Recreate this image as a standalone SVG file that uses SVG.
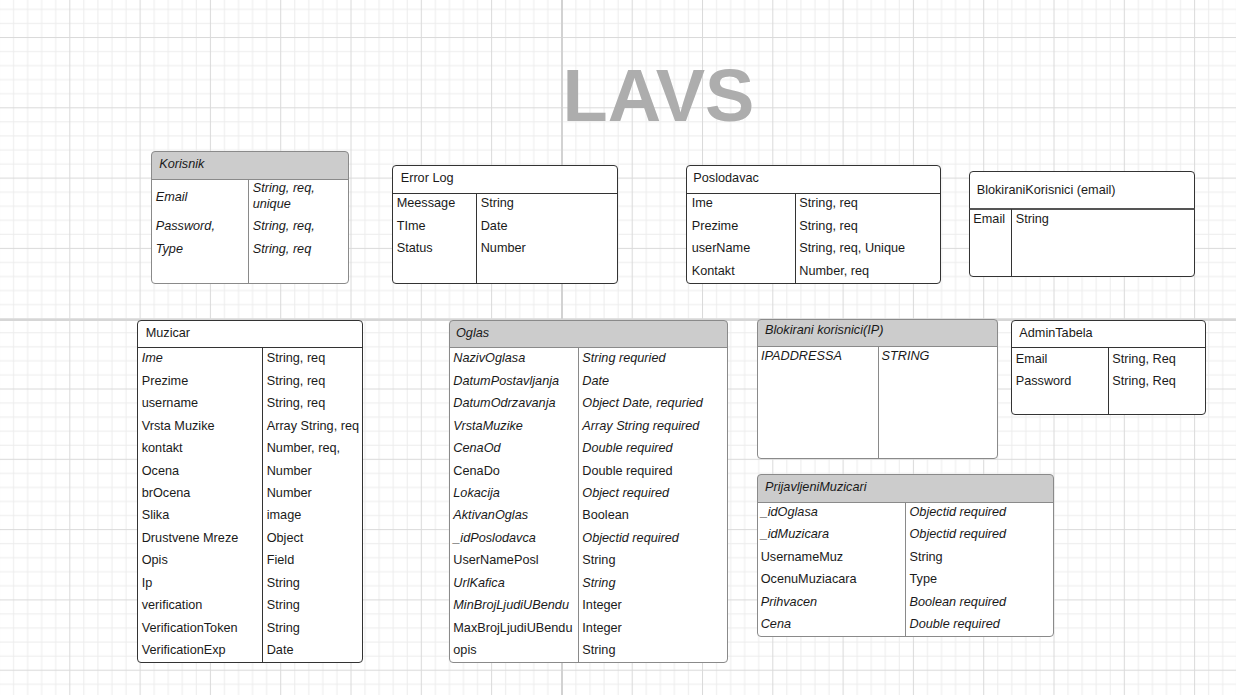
<svg xmlns="http://www.w3.org/2000/svg" width="1236" height="695" viewBox="0 0 1236 695">
<style>
.t{font-family:"Liberation Sans",Arial,sans-serif;font-size:12.7px;fill:#1a1a1a}
.i{font-style:italic}
.boxg{fill:#fff;stroke:#8a8a8a;stroke-width:1}
.boxd{fill:none;stroke:#333;stroke-width:1}
.bg{fill:#fff}
.hdr{fill:#cccccc}
.lg{stroke:#8a8a8a;stroke-width:1;fill:none}
.ld{stroke:#333;stroke-width:1;fill:none}
.title{font-family:"Liberation Sans",Arial,sans-serif;font-size:74px;font-weight:bold;fill:#adadad}
</style>
<defs>
<pattern id="grid" patternUnits="userSpaceOnUse" x="-1" y="-33.3" width="70.3" height="70.3">
<rect x="0" y="0" width="70.3" height="70.3" fill="#fff"/>
<g fill="#ededed">
<rect x="14.06" y="0" width="1" height="70.3"/>
<rect x="28.12" y="0" width="1" height="70.3"/>
<rect x="42.18" y="0" width="1" height="70.3"/>
<rect x="56.24" y="0" width="1" height="70.3"/>
<rect x="0" y="14.06" width="70.3" height="1"/>
<rect x="0" y="28.12" width="70.3" height="1"/>
<rect x="0" y="42.18" width="70.3" height="1"/>
<rect x="0" y="56.24" width="70.3" height="1"/>
</g>
<g fill="#dadada">
<rect x="0" y="0" width="1" height="70.3"/>
<rect x="0" y="0" width="70.3" height="1"/>
</g>
</pattern>
</defs>
<rect x="0" y="0" width="1236" height="695" fill="url(#grid)"/>
<rect x="561" y="0" width="2" height="695" fill="#d2d2d2"/>
<rect x="0" y="319" width="1236" height="2" fill="#d6d6d6"/>

<text class="title" x="562.5" y="120.7">LAVS</text>

<g id="connectors"></g>

<g id="korisnik">
<rect class="bg" x="151.5" y="151.5" width="197" height="132" rx="3.5"/>
<path class="hdr" d="M151.5,179.5 V155 a3.5,3.5 0 0 1 3.5,-3.5 H345 a3.5,3.5 0 0 1 3.5,3.5 V179.5 Z"/>
<rect class="boxg" x="151.5" y="151.5" width="197" height="132" rx="3.5" style="fill:none"/>
<line class="lg" x1="151.5" y1="179.5" x2="348.5" y2="179.5"/>
<line class="lg" x1="248.5" y1="179.5" x2="248.5" y2="283.5"/>
<text class="t i" x="159.3" y="167.7">Korisnik</text>
<text class="t i" x="155.7" y="200.5">Email</text>
<text class="t i" x="252.7" y="192.3">String, req,</text>
<text class="t i" x="252.7" y="208.3">unique</text>
<text class="t i" x="155.7" y="230.3">Password,</text>
<text class="t i" x="252.7" y="230.3">String, req,</text>
<text class="t i" x="155.7" y="253">Type</text>
<text class="t i" x="252.7" y="253">String, req</text>
</g>

<g id="errorlog">
<rect class="bg" x="392.5" y="165.5" width="225" height="118" rx="3.5"/>
<rect class="boxd" x="392.5" y="165.5" width="225" height="118" rx="3.5"/>
<line class="ld" x1="392.5" y1="193.5" x2="617.5" y2="193.5"/>
<line class="ld" x1="476.5" y1="193.5" x2="476.5" y2="283.5"/>
<text class="t" x="400.7" y="181.7">Error Log</text>
<text class="t" x="396.7" y="207.3">Meessage</text>
<text class="t" x="480.7" y="207.3">String</text>
<text class="t" x="396.7" y="229.7">TIme</text>
<text class="t" x="480.7" y="229.7">Date</text>
<text class="t" x="396.7" y="252.1">Status</text>
<text class="t" x="480.7" y="252.1">Number</text>
</g>

<g id="poslodavac">
<rect class="bg" x="686.5" y="165.5" width="254" height="118" rx="3.5"/>
<rect class="boxd" x="686.5" y="165.5" width="254" height="118" rx="3.5"/>
<line class="ld" x1="686.5" y1="193.5" x2="940.5" y2="193.5"/>
<line class="ld" x1="795.5" y1="193.5" x2="795.5" y2="283.5"/>
<text class="t" x="693.3" y="181.7">Poslodavac</text>
<text class="t" x="691.7" y="207.3">Ime</text>
<text class="t" x="799.3" y="207.3">String, req</text>
<text class="t" x="691.7" y="229.7">Prezime</text>
<text class="t" x="799.3" y="229.7">String, req</text>
<text class="t" x="691.7" y="252.1">userName</text>
<text class="t" x="799.3" y="252.1">String, req, Unique</text>
<text class="t" x="691.7" y="274.5">Kontakt</text>
<text class="t" x="799.3" y="274.5">Number, req</text>
</g>

<g id="blokiranikorisnici-email">
<rect class="bg" x="969.5" y="171.5" width="225" height="105" rx="3.5"/>
<rect class="boxd" x="969.5" y="171.5" width="225" height="105" rx="3.5"/>
<line x1="969.5" y1="209" x2="1194.5" y2="209" stroke="#555" stroke-width="2"/>
<line class="ld" x1="1011.5" y1="209" x2="1011.5" y2="276.5"/>
<text class="t" x="976.7" y="194">BlokiraniKorisnici (email)</text>
<text class="t" x="973.3" y="223.3">Email</text>
<text class="t" x="1015.7" y="223.3">String</text>
</g>

<g id="admintabela">
<rect class="bg" x="1011.5" y="320.5" width="194" height="94" rx="3.5"/>
<rect class="boxd" x="1011.5" y="320.5" width="194" height="94" rx="3.5"/>
<line class="ld" x1="1011.5" y1="347.5" x2="1205.5" y2="347.5"/>
<line class="ld" x1="1108.5" y1="347.5" x2="1108.5" y2="414.5"/>
<text class="t" x="1019.3" y="336.7">AdminTabela</text>
<text class="t" x="1015.7" y="362.5">Email</text>
<text class="t" x="1112.3" y="362.5">String, Req</text>
<text class="t" x="1015.7" y="384.5">Password</text>
<text class="t" x="1112.3" y="384.5">String, Req</text>
</g>

<g id="muzicar">
<rect class="bg" x="137.5" y="320.5" width="225" height="342" rx="3.5"/>
<rect class="boxd" x="137.5" y="320.5" width="225" height="342" rx="3.5"/>
<line class="ld" x1="137.5" y1="347.5" x2="362.5" y2="347.5"/>
<line class="ld" x1="262.5" y1="347.5" x2="262.5" y2="662.5"/>
<text class="t" x="145.7" y="336.7">Muzicar</text>
<text class="t i" x="141.7" y="362.3">Ime</text><text class="t" x="266.7" y="362.3">String, req</text>
<text class="t" x="141.7" y="384.75">Prezime</text><text class="t" x="266.7" y="384.75">String, req</text>
<text class="t" x="141.7" y="407.2">username</text><text class="t" x="266.7" y="407.2">String, req</text>
<text class="t" x="141.7" y="429.65">Vrsta Muzike</text><text class="t" x="266.7" y="429.65">Array String, req</text>
<text class="t" x="141.7" y="452.1">kontakt</text><text class="t" x="266.7" y="452.1">Number, req,</text>
<text class="t" x="141.7" y="474.55">Ocena</text><text class="t" x="266.7" y="474.55">Number</text>
<text class="t" x="141.7" y="497">brOcena</text><text class="t" x="266.7" y="497">Number</text>
<text class="t" x="141.7" y="519.45">Slika</text><text class="t" x="266.7" y="519.45">image</text>
<text class="t" x="141.7" y="541.9">Drustvene Mreze</text><text class="t" x="266.7" y="541.9">Object</text>
<text class="t" x="141.7" y="564.35">Opis</text><text class="t" x="266.7" y="564.35">Field</text>
<text class="t" x="141.7" y="586.8">Ip</text><text class="t" x="266.7" y="586.8">String</text>
<text class="t" x="141.7" y="609.25">verification</text><text class="t" x="266.7" y="609.25">String</text>
<text class="t" x="141.7" y="631.7">VerificationToken</text><text class="t" x="266.7" y="631.7">String</text>
<text class="t" x="141.7" y="654.15">VerificationExp</text><text class="t" x="266.7" y="654.15">Date</text>
</g>

<g id="oglas">
<rect class="bg" x="449.5" y="320.5" width="278" height="342" rx="3.5"/>
<path class="hdr" d="M449.5,347.5 V324 a3.5,3.5 0 0 1 3.5,-3.5 H724 a3.5,3.5 0 0 1 3.5,3.5 V347.5 Z"/>
<rect class="boxg" x="449.5" y="320.5" width="278" height="342" rx="3.5" style="fill:none"/>
<line class="lg" x1="449.5" y1="347.5" x2="727.5" y2="347.5"/>
<line class="lg" x1="578.5" y1="347.5" x2="578.5" y2="662.5"/>
<text class="t i" x="456" y="336.7">Oglas</text>
<text class="t i" x="453.3" y="362.3">NazivOglasa</text><text class="t i" x="582.3" y="362.3">String requried</text>
<text class="t i" x="453.3" y="384.75">DatumPostavljanja</text><text class="t i" x="582.3" y="384.75">Date</text>
<text class="t i" x="453.3" y="407.2">DatumOdrzavanja</text><text class="t i" x="582.3" y="407.2">Object Date, requried</text>
<text class="t i" x="453.3" y="429.65">VrstaMuzike</text><text class="t i" x="582.3" y="429.65">Array String required</text>
<text class="t i" x="453.3" y="452.1">CenaOd</text><text class="t i" x="582.3" y="452.1">Double required</text>
<text class="t" x="453.3" y="474.55">CenaDo</text><text class="t" x="582.3" y="474.55">Double required</text>
<text class="t i" x="453.3" y="497">Lokacija</text><text class="t i" x="582.3" y="497">Object required</text>
<text class="t i" x="453.3" y="519.45">AktivanOglas</text><text class="t" x="582.3" y="519.45">Boolean</text>
<text class="t i" x="453.3" y="541.9">_idPoslodavca</text><text class="t i" x="582.3" y="541.9">Objectid required</text>
<text class="t" x="453.3" y="564.35">UserNamePosl</text><text class="t" x="582.3" y="564.35">String</text>
<text class="t i" x="453.3" y="586.8">UrlKafica</text><text class="t i" x="582.3" y="586.8">String</text>
<text class="t i" x="453.3" y="609.25">MinBrojLjudiUBendu</text><text class="t" x="582.3" y="609.25">Integer</text>
<text class="t" x="453.3" y="631.7">MaxBrojLjudiUBendu</text><text class="t" x="582.3" y="631.7">Integer</text>
<text class="t" x="453.3" y="654.15">opis</text><text class="t" x="582.3" y="654.15">String</text>
</g>

<g id="blokiranikorisnici-ip">
<rect class="bg" x="757.5" y="319.5" width="240" height="139" rx="3.5"/>
<path class="hdr" d="M757.5,346.5 V323 a3.5,3.5 0 0 1 3.5,-3.5 H994 a3.5,3.5 0 0 1 3.5,3.5 V346.5 Z"/>
<rect class="boxg" x="757.5" y="319.5" width="240" height="139" rx="3.5" style="fill:none"/>
<line class="lg" x1="757.5" y1="346.5" x2="997.5" y2="346.5"/>
<line class="lg" x1="878.5" y1="346.5" x2="878.5" y2="458.5"/>
<text class="t i" x="765" y="333.5">Blokirani korisnici(IP)</text>
<text class="t i" x="761" y="359.8">IPADDRESSA</text>
<text class="t i" x="881.5" y="359.8">STRING</text>
</g>

<g id="prijavljenimuzicari">
<rect class="bg" x="757.5" y="474.5" width="296" height="162" rx="3.5"/>
<path class="hdr" d="M757.5,502.5 V478 a3.5,3.5 0 0 1 3.5,-3.5 H1050 a3.5,3.5 0 0 1 3.5,3.5 V502.5 Z"/>
<rect class="boxg" x="757.5" y="474.5" width="296" height="162" rx="3.5" style="fill:none"/>
<line class="lg" x1="757.5" y1="502.5" x2="1053.5" y2="502.5"/>
<line class="lg" x1="905.5" y1="502.5" x2="905.5" y2="636.5"/>
<text class="t i" x="765" y="491">PrijavljeniMuzicari</text>
<text class="t i" x="760.7" y="515.5">_idOglasa</text><text class="t i" x="909.5" y="515.5">Objectid required</text>
<text class="t i" x="760.7" y="538">_idMuzicara</text><text class="t i" x="909.5" y="538">Objectid required</text>
<text class="t" x="760.7" y="560.5">UsernameMuz</text><text class="t" x="909.5" y="560.5">String</text>
<text class="t" x="760.7" y="583">OcenuMuziacara</text><text class="t" x="909.5" y="583">Type</text>
<text class="t i" x="760.7" y="605.5">Prihvacen</text><text class="t i" x="909.5" y="605.5">Boolean required</text>
<text class="t i" x="760.7" y="628">Cena</text><text class="t i" x="909.5" y="628">Double required</text>
</g>
</svg>
